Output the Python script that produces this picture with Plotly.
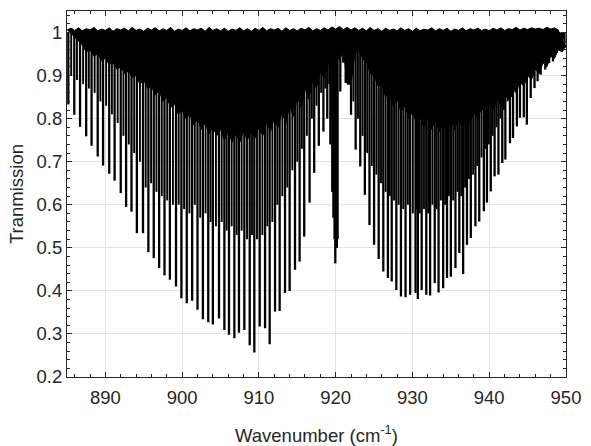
import plotly.graph_objects as go

# ---- strong lines (position cm^-1, minimum transmission) ----
strong_x = [885.17, 885.95, 886.7, 887.5, 888.2, 889.0, 889.7, 890.5, 891.2, 892.0,
            892.7, 893.4, 894.1, 894.9, 895.6, 896.3, 897.0, 897.7, 898.4, 899.2,
            899.9, 900.6, 901.3, 902.0, 902.7, 903.4, 904.0, 904.8, 905.5, 906.1,
            906.8, 907.4, 908.1, 908.8, 909.4, 910.1, 910.8, 911.4, 912.1, 912.7,
            913.4, 914.0, 914.7, 915.3, 915.9, 916.6, 917.2, 917.8, 918.4, 918.9, 919.3,
            919.55, 919.7, 919.85, 919.95, 920.05, 920.15, 920.25,
            920.6, 921.3, 922.0, 922.6, 923.2, 923.8, 924.4, 925.0, 925.6, 926.2,
            926.8, 927.3, 927.9, 928.5, 929.1, 929.7, 930.4, 930.7, 931.2, 931.8,
            932.3, 932.9, 933.4, 934.0, 934.5, 935.0, 935.6, 936.1, 936.6, 937.1,
            937.6, 938.2, 938.7, 939.3, 939.7, 940.2, 940.7, 941.2, 941.7, 942.1,
            942.7, 943.1, 943.6, 944.0, 944.5, 944.9, 945.4, 945.9, 946.3, 946.7,
            947.3, 947.8, 948.3, 948.8, 949.1, 949.5, 949.8]
strong_min = [0.833, 0.809, 0.781, 0.759, 0.737, 0.712, 0.691, 0.672, 0.656, 0.627,
              0.595, 0.584, 0.534, 0.534, 0.490, 0.476, 0.453, 0.436, 0.426, 0.410,
              0.383, 0.371, 0.377, 0.356, 0.334, 0.327, 0.322, 0.336, 0.309, 0.298,
              0.290, 0.303, 0.309, 0.274, 0.257, 0.317, 0.313, 0.276, 0.352, 0.353,
              0.395, 0.400, 0.449, 0.468, 0.526, 0.605, 0.674, 0.737, 0.770, 0.800, 0.740,
              0.630, 0.570, 0.520, 0.464, 0.500, 0.500, 0.520,
              0.863, 0.883, 0.809, 0.728, 0.689, 0.623, 0.553, 0.507, 0.474, 0.445,
              0.430, 0.422, 0.402, 0.387, 0.385, 0.391, 0.395, 0.381, 0.402, 0.391,
              0.389, 0.418, 0.396, 0.406, 0.430, 0.433, 0.453, 0.488, 0.439, 0.507,
              0.523, 0.550, 0.561, 0.585, 0.605, 0.631, 0.666, 0.670, 0.697, 0.705,
              0.743, 0.755, 0.782, 0.802, 0.803, 0.786, 0.848, 0.871, 0.887, 0.902,
              0.914, 0.929, 0.933, 0.953, 0.964, 0.960, 0.968]

# ---- medium lines ----
medium_x = [885.55, 886.3, 887.1, 887.85, 888.6, 889.35, 890.1, 890.85, 891.6, 892.35,
            893.05, 893.75, 894.5, 895.25, 895.95, 896.65, 897.35, 898.05, 898.8, 899.55,
            900.25, 900.95, 901.65, 902.35, 903.05, 903.7, 904.4, 905.15, 905.8, 906.45,
            907.1, 907.75, 908.45, 909.1, 909.75, 910.45, 911.1, 911.75, 912.4, 913.05,
            913.7, 914.35, 915.0, 915.6, 916.25, 916.9, 917.5, 918.1, 918.65, 919.15,
            920.95, 921.65, 922.3, 922.9, 923.5, 924.1, 924.7, 925.3, 925.9, 926.5,
            927.05, 927.6, 928.2, 928.8, 929.4, 930.05, 930.55, 930.95, 931.5, 932.05,
            932.6, 933.15, 933.7, 934.25, 934.75, 935.3, 935.85, 936.35, 936.85, 937.35,
            937.9, 938.45, 939.0, 939.5, 939.95, 940.45, 940.95, 941.45, 941.9, 942.4,
            942.9, 943.35, 943.8, 944.25, 944.7, 945.15, 945.65, 946.1, 946.5, 947.0,
            947.55, 948.05, 948.55, 949.0, 949.3, 949.65]
medium_min = [0.90, 0.89, 0.88, 0.87, 0.86, 0.84, 0.83, 0.81, 0.79, 0.76,
              0.74, 0.72, 0.70, 0.64, 0.65, 0.63, 0.62, 0.61, 0.60, 0.60,
              0.59, 0.58, 0.60, 0.57, 0.58, 0.56, 0.55, 0.56, 0.54, 0.55,
              0.53, 0.54, 0.52, 0.53, 0.52, 0.53, 0.55, 0.56, 0.60, 0.62,
              0.64, 0.68, 0.70, 0.73, 0.76, 0.80, 0.83, 0.86, 0.87, 0.88,
              0.93, 0.90, 0.84, 0.80, 0.76, 0.72, 0.69, 0.67, 0.65, 0.63,
              0.62, 0.61, 0.60, 0.59, 0.60, 0.58, 0.59, 0.58, 0.59, 0.58,
              0.60, 0.59, 0.61, 0.60, 0.62, 0.61, 0.63, 0.62, 0.64, 0.66,
              0.67, 0.69, 0.71, 0.73, 0.74, 0.76, 0.78, 0.80, 0.82, 0.84,
              0.85, 0.87, 0.88, 0.90, 0.91, 0.92, 0.93, 0.94, 0.95, 0.96,
              0.965, 0.97, 0.975, 0.98, 0.98, 0.985]

# ---- dense weak-line band: top edge and lower edge ----
band_x = [885, 885.5, 886, 886.5, 887, 887.5, 888, 888.5, 889, 889.5, 890, 890.5,
          891, 891.5, 892, 892.5, 893, 893.5, 894, 894.5, 895, 895.5, 896, 896.5,
          897, 897.5, 898, 898.5, 899, 899.5, 900, 900.5, 901, 901.5, 902, 902.5,
          903, 903.5, 904, 904.5, 905, 905.5, 906, 906.5, 907, 907.5, 908, 908.5,
          909, 909.5, 910, 910.5, 911, 911.5, 912, 912.5, 913, 913.5, 914, 914.5,
          915, 915.5, 916, 916.5, 917, 917.5, 918, 918.5, 919, 919.5, 920, 920.5,
          921, 921.5, 922, 922.5, 923, 923.5, 924, 924.5, 925, 925.5, 926, 926.5,
          927, 927.5, 928, 928.5, 929, 929.5, 930, 930.5, 931, 931.5, 932, 932.5,
          933, 933.5, 934, 934.5, 935, 935.5, 936, 936.5, 937, 937.5, 938, 938.5,
          939, 939.5, 940, 940.5, 941, 941.5, 942, 942.5, 943, 943.5, 944, 944.5,
          945, 945.5, 946, 946.5, 947, 947.5, 948, 948.5, 949, 949.5, 950]
band_top = [1.006, 1.010, 1.005, 1.011, 1.004, 1.009, 1.006, 1.012, 1.004, 1.008,
            1.005, 1.011, 1.003, 1.009, 1.006, 1.010, 1.004, 1.012, 1.005, 1.008,
            1.003, 1.010, 1.006, 1.011, 1.004, 1.009, 1.005, 1.012, 1.003, 1.008,
            1.005, 1.011, 1.004, 1.009, 1.006, 1.010, 1.003, 1.012, 1.005, 1.009,
            1.004, 1.010, 1.003, 1.008, 1.005, 1.011, 1.004, 1.009, 1.003, 1.010,
            1.005, 1.012, 1.004, 1.009, 1.006, 1.010, 1.003, 1.011, 1.005, 1.009,
            1.004, 1.010, 1.006, 1.012, 1.004, 1.009, 1.005, 1.011, 1.006, 1.013,
            1.008, 1.014, 1.007, 1.012, 1.006, 1.011, 1.005, 1.010, 1.004, 1.012,
            1.005, 1.009, 1.003, 1.010, 1.005, 1.008, 1.004, 1.011, 1.005, 1.009,
            1.003, 1.010, 1.004, 1.008, 1.006, 1.011, 1.004, 1.009, 1.005, 1.010,
            1.003, 1.008, 1.005, 1.011, 1.004, 1.009, 1.006, 1.010, 1.005, 1.008,
            1.004, 1.010, 1.006, 1.011, 1.005, 1.009, 1.007, 1.012, 1.006, 1.010,
            1.007, 1.011, 1.008, 1.010, 1.007, 1.012, 1.008, 1.011, 1.006]
band_low = [0.970, 0.955, 0.960, 0.945, 0.950, 0.935, 0.940, 0.925, 0.930, 0.915,
            0.920, 0.905, 0.910, 0.895, 0.900, 0.880, 0.890, 0.870, 0.875, 0.855,
            0.865, 0.840, 0.850, 0.825, 0.835, 0.810, 0.820, 0.800, 0.810, 0.785,
            0.800, 0.775, 0.790, 0.765, 0.780, 0.760, 0.775, 0.750, 0.770, 0.745,
            0.765, 0.745, 0.770, 0.750, 0.770, 0.755, 0.780, 0.760, 0.790, 0.770,
            0.800, 0.780, 0.815, 0.790, 0.830, 0.805, 0.850, 0.825, 0.870, 0.845,
            0.890, 0.870, 0.910, 0.895, 0.930, 0.915, 0.950, 0.935, 0.960, 0.880,
            0.880, 0.950, 0.960, 0.940, 0.930, 0.905, 0.900, 0.875, 0.880, 0.850,
            0.860, 0.830, 0.845, 0.815, 0.830, 0.800, 0.815, 0.790, 0.805, 0.780,
            0.800, 0.775, 0.795, 0.770, 0.790, 0.770, 0.795, 0.775, 0.800, 0.780,
            0.805, 0.790, 0.815, 0.800, 0.825, 0.810, 0.835, 0.820, 0.845, 0.830,
            0.855, 0.845, 0.870, 0.860, 0.885, 0.875, 0.900, 0.890, 0.915, 0.905,
            0.930, 0.920, 0.945, 0.940, 0.960, 0.955, 0.970, 0.965, 0.980]

x_ticks = [890, 900, 910, 920, 930, 940, 950]
y_ticks = [0.2, 0.3, 0.4, 0.5, 0.6, 0.7, 0.8, 0.9, 1.0]
y_labels = ["0.2", "0.3", "0.4", "0.5", "0.6", "0.7", "0.8", "0.9", "1"]

BASE = 1.0


def segments(xs, ys, top):
    sx, sy = [], []
    for xv, yv in zip(xs, ys):
        sx += [xv, xv, None]
        sy += [top, yv, None]
    return sx, sy


fig = go.Figure()

fig.add_trace(go.Scatter(
    x=band_x + band_x[::-1], y=band_top + band_low[::-1],
    fill="toself", fillcolor="black", mode="lines",
    line=dict(color="black", width=1), hoverinfo="skip", showlegend=False))

mx, my = segments(medium_x, medium_min, BASE)
fig.add_trace(go.Scatter(x=mx, y=my, mode="lines",
                         line=dict(color="black", width=1.9),
                         hoverinfo="skip", showlegend=False))

sx, sy = segments(strong_x, strong_min, BASE)
fig.add_trace(go.Scatter(x=sx, y=sy, mode="lines",
                         line=dict(color="black", width=2.3),
                         hoverinfo="skip", showlegend=False))

axis_color = "#262626"
font = dict(family="Liberation Sans, Arial, sans-serif", size=18.5, color=axis_color)

fig.update_layout(
    width=591, height=446,
    margin=dict(l=67, r=25, t=11, b=69),
    paper_bgcolor="white", plot_bgcolor="white",
    font=font,
    showlegend=False,
)
fig.update_xaxes(
    range=[885, 950], tickvals=x_ticks, ticks="inside", ticklen=5,
    tickcolor=axis_color, showline=True, linecolor=axis_color, linewidth=1,
    mirror="ticks", showgrid=True, gridcolor="#e3e3e3", zeroline=False,
    ticklabelstandoff=4, automargin=False,
    minor=dict(dtick=2, ticks="inside", ticklen=3, tickcolor=axis_color, showgrid=False),
    title=dict(text="Wavenumber (cm<sup>-1</sup>)", standoff=26, font=font),
    tickfont=font,
)
fig.update_yaxes(
    range=[0.2, 1.05], tickvals=y_ticks, ticktext=y_labels, ticks="inside", ticklen=5,
    tickcolor=axis_color, showline=True, linecolor=axis_color, linewidth=1,
    mirror="ticks", showgrid=True, gridcolor="#e3e3e3", zeroline=False,
    automargin=False,
    minor=dict(dtick=0.02, tick0=0.2, ticks="inside", ticklen=3, tickcolor=axis_color, showgrid=False),
    title=dict(text="Tranmission", standoff=8, font=font),
    tickfont=font,
)

fig.write_html("out.html")
